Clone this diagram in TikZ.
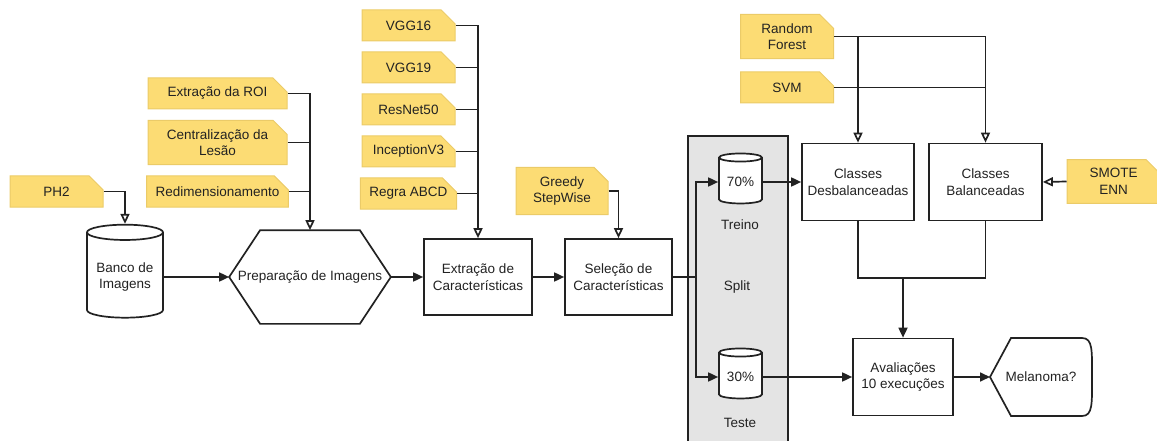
\documentclass[tikz,border=0pt]{standalone}
\usepackage{fontspec}
\setmainfont{Liberation Sans}
\usetikzlibrary{arrows.meta,positioning,calc,shapes.geometric,shapes.misc}
\tikzset{font={\fontsize{13.5pt}{16.5pt}\selectfont}}
\definecolor{notefill}{HTML}{FCDC74}
\definecolor{noteline}{HTML}{EBCB68}
\definecolor{notefold}{HTML}{F0CC5E}
\definecolor{splitgray}{HTML}{E4E4E4}
\definecolor{ink}{HTML}{222222}

\begin{document}
\begin{tikzpicture}[x=1pt,y=-1pt,line width=1.7pt,draw=ink,text=ink,node distance=42pt,
    flow/.style={-{Triangle[length=10pt,width=9pt]}},
    hint/.style={-{Triangle[open,length=10pt,width=9pt,fill=white]}},
    note node/.style={chamfered rectangle,chamfered rectangle corners=north east,
      chamfered rectangle xsep=7pt,chamfered rectangle ysep=7pt,
      draw=noteline,fill=notefill,line width=1pt,inner sep=2pt,
      minimum width=93pt,minimum height=31pt,align=center,
      path picture={\fill[notefold] ($(path picture bounding box.north east)+(-7pt,0pt)$)
        -- ++(0pt,-7pt) -- ++(7pt,0pt) -- cycle;}},
    box node/.style={draw,fill=white,minimum width=108pt,minimum height=76pt,align=center},
    db node/.style={cylinder,shape border rotate=90,draw,fill=white,shape aspect=0.24,align=center}]
  \useasboundingbox (0,0) rectangle (1157,441);

  % sources and preparation
  \node[note node] (ph2) at (56.5,191.5) {PH2};
  \node[db node,minimum width=76pt,minimum height=93pt] (banco) at (125,277) {Banco de\\Imagens};
  \node[note node,minimum width=139pt] (roi) at (217.5,93.5) {Extração da ROI};
  \node[note node,minimum width=139pt,minimum height=40pt] (cent) [below of=roi,node distance=49pt] {Centralização da\\Lesão};
  \node[note node,minimum width=139pt] (redim) [below of=cent,node distance=49pt] {Redimensionamento};
  \node[minimum width=160pt,minimum height=92pt,inner sep=0pt] (prep) at (310,277) {Preparação de Imagens};
  \draw (prep.west) -- ($(prep.north west)+(31,0)$) -- ($(prep.north east)+(-31,0)$) -- (prep.east)
    -- ($(prep.south east)+(-31,0)$) -- ($(prep.south west)+(31,0)$) -- cycle;

  % feature extraction and selection
  \node[note node] (vgg16) at (408.5,25.5) {VGG16};
  \node[note node] (vgg19) [below of=vgg16] {VGG19};
  \node[note node] (resnet) [below of=vgg19] {ResNet50};
  \node[note node] (inception) [below of=resnet] {InceptionV3};
  \node[note node] (regra) [below of=inception] {Regra ABCD};
  \node[box node] (extr) at (478,277) {Extração de\\Características};
  \node[note node,minimum width=92pt,minimum height=42pt] (greedy) at (562,191) {Greedy\\StepWise};
  \node[box node,minimum width=107pt] (sel) at (618.5,277) {Seleção de\\Características};

  % split
  \node[draw,fill=splitgray,minimum width=100pt,minimum height=320pt,anchor=north west] (split) at (687,135) {};
  \node (splitlabel) at (737,287) {Split};
  \node[db node,minimum width=43pt,minimum height=50pt] (c70) at (740.5,182) {70\%};
  \node (treino) at (740,225) {Treino};
  \node[db node,minimum width=43pt,minimum height=50pt] (c30) at (740.5,377) {30\%};
  \node (teste) at (740,423) {Teste};

  % classification
  \node[note node,minimum height=39pt] (rf) at (787,36.5) {Random\\Forest};
  \node[note node] (svm) [below of=rf,node distance=51pt] {SVM};
  \node[box node,minimum width=112pt,minimum height=77pt] (desb) at (858,182) {Classes\\Desbalanceadas};
  \node[box node,minimum width=113pt,minimum height=77pt] (bal) at (985.5,182) {Classes\\Balanceadas};
  \node[note node,minimum height=41pt] (smote) at (1113.5,181.5) {SMOTE\\ENN};
  \node[box node,minimum width=100pt,minimum height=77pt] (aval) at (903,377) {Avaliações\\10 execuções};
  \node (mel) at (1041,377) {Melanoma?};
  \coordinate (melL) at (990,377);
  \draw (melL) -- (1011,338) -- (1082,338) .. controls (1093,338) and (1092,351) .. (1092,377)
    .. controls (1092,403) and (1093,416) .. (1082,416) -- (1011,416) -- cycle;

  % connectors
  \draw[hint] (ph2.east) -| (banco.north);
  \draw[flow] (banco) -- (prep);
  \draw[hint] (roi.east) -| (prep.north);
  \draw (cent.east) -- (cent.east -| prep.north);
  \draw (redim.east) -- (redim.east -| prep.north);
  \draw[flow] (prep) -- (extr);
  \draw[hint] (vgg16.east) -| (extr.north);
  \foreach \n in {vgg19,resnet,inception,regra}
    \draw (\n.east) -- (\n.east -| extr.north);
  \draw[flow] (extr) -- (sel);
  \draw[hint] (greedy.east) -| (sel.north);
  \coordinate (fork) at (696,277);
  \draw (sel.east) -- (fork);
  \draw[flow] (fork) |- (c70.west);
  \draw[flow] (fork) |- (c30.west);
  \draw[flow] (c70.east) -- (desb.west);
  \draw[hint] (rf.east) -| (desb.north);
  \draw[hint] (rf.east) -| (bal.north);
  \draw (svm.east) -- (svm.east -| bal.north);
  \draw[hint] (smote.west) -- (bal.east);
  \coordinate (join) at (903,278);
  \draw (desb.south) |- (join) -| (bal.south);
  \draw[flow] (join) -- (aval.north);
  \draw[flow] (c30.east) -- (aval.west);
  \draw[flow] (aval.east) -- (melL);
\end{tikzpicture}
\end{document}
